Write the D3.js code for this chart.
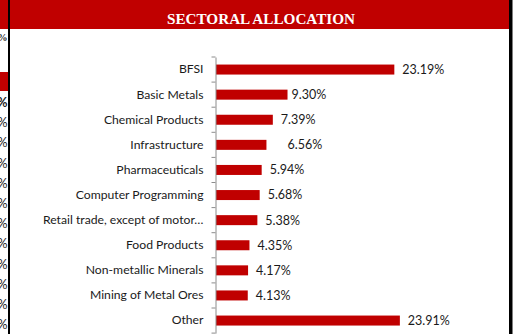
<!DOCTYPE html>
<html>
<head>
<meta charset="utf-8">
<script src="https://cdn.jsdelivr.net/npm/d3@7"></script>
<style>
  html, body { margin: 0; padding: 0; background: #fff; }
  svg { display: block; }
</style>
</head>
<body>
<svg id="chart" width="521" height="334"></svg>
<script>
// Sector names, top to bottom
const sectors = [
  "BFSI",
  "Basic Metals",
  "Chemical Products",
  "Infrastructure",
  "Pharmaceuticals",
  "Computer Programming",
  "Retail trade, except of motor…",
  "Food Products",
  "Non-metallic Minerals",
  "Mining of Metal Ores",
  "Other"
];

// Share of the portfolio, in percent
const allocation = [23.19, 9.30, 7.39, 6.56, 5.94, 5.68, 5.38, 4.35, 4.17, 4.13, 23.91];

const title = "SECTORAL ALLOCATION";

// ---- layout ----
const W = 521, H = 334;
const RED = "#C00000";
const labelFont = "Lato, 'Open Sans', sans-serif";

const svg = d3.select("#chart");

// Page frame: header band and the dark rules at both sides
svg.append("rect").attr("x", 0).attr("y", 0).attr("width", 510).attr("height", 29).attr("fill", RED);
svg.append("rect").attr("x", 0).attr("y", 72).attr("width", 9).attr("height", 19).attr("fill", RED);

// Edge of the neighbouring table column (only its "%" ends show)
const edgeRows = d3.range(12);
svg.append("text")
  .attr("x", 7.5).attr("y", 41)
  .attr("text-anchor", "end")
  .attr("font-family", "'Liberation Serif', serif")
  .attr("font-weight", "bold")
  .attr("font-size", 10)
  .attr("fill", "#222")
  .text("%");
svg.selectAll("text.edge")
  .data(edgeRows)
  .enter().append("text")
  .attr("class", "edge")
  .attr("x", 7.5)
  .attr("y", d => 107 + d * 20.2)
  .attr("text-anchor", "end")
  .attr("font-family", labelFont)
  .attr("font-weight", d => d === 0 ? "bold" : "normal")
  .attr("font-size", 12.5)
  .attr("fill", "#222")
  .text("%");

svg.append("rect").attr("x", 8).attr("y", 0).attr("width", 2).attr("height", H).attr("fill", "#000");
svg.append("rect").attr("x", 509).attr("y", 0).attr("width", 3.5).attr("height", H).attr("fill", "#000");

svg.append("text")
  .attr("x", 261).attr("y", 23.5)
  .attr("text-anchor", "middle")
  .attr("font-family", "'Liberation Serif', 'Times New Roman', serif")
  .attr("font-weight", "bold")
  .attr("font-size", 15.2)
  .attr("fill", "#fff")
  .text(title);

// ---- scales ----
const axisX = 215.5;
const y = d3.scaleBand()
  .domain(sectors)
  .range([57, 57 + 25.1 * sectors.length])
  .paddingInner(0)
  .paddingOuter(0);

const x = d3.scaleLinear()
  .domain([0, 30])
  .range([axisX + 0.5, axisX + 0.5 + 7.69 * 30]);

const barH = 10;

// bars
svg.selectAll("rect.bar")
  .data(sectors)
  .enter().append("rect")
  .attr("class", "bar")
  .attr("x", x(0))
  .attr("y", d => y(d) + y.bandwidth() / 2 - barH / 2)
  .attr("width", (d, i) => x(allocation[i]) - x(0))
  .attr("height", barH)
  .attr("fill", RED);

// category axis: labels, the line and boundary ticks
const axis = d3.axisLeft(y).tickSizeInner(0).tickSizeOuter(0).tickPadding(12);
const gAxis = svg.append("g")
  .attr("transform", `translate(${axisX},0)`)
  .call(axis);
gAxis.select(".domain").attr("stroke", "#8c8c8c").attr("stroke-width", 1);
gAxis.selectAll(".tick text")
  .attr("font-family", labelFont)
  .attr("font-size", 12.2)
  .attr("fill", "#1a1a1a");

const bounds = sectors.map(d => y(d)).concat([y.range()[1]]);
gAxis.selectAll("line.bound")
  .data(bounds)
  .enter().append("line")
  .attr("class", "bound")
  .attr("x1", -4).attr("x2", 0)
  .attr("y1", d => d).attr("y2", d => d)
  .attr("stroke", "#8c8c8c");

// value labels; two of them sit slightly off the usual gap
const labelGap = 8;
const labelNudge = { "Basic Metals": -4, "Infrastructure": 13 };
svg.selectAll("text.value")
  .data(sectors)
  .enter().append("text")
  .attr("class", "value")
  .attr("x", (d, i) => x(allocation[i]) + labelGap + (labelNudge[d] || 0))
  .attr("y", d => y(d) + y.bandwidth() / 2)
  .attr("dy", "0.35em")
  .attr("font-family", labelFont)
  .attr("font-size", 12.5)
  .attr("fill", "#1a1a1a")
  .text((d, i) => allocation[i].toFixed(2) + "%");
</script>
</body>
</html>
